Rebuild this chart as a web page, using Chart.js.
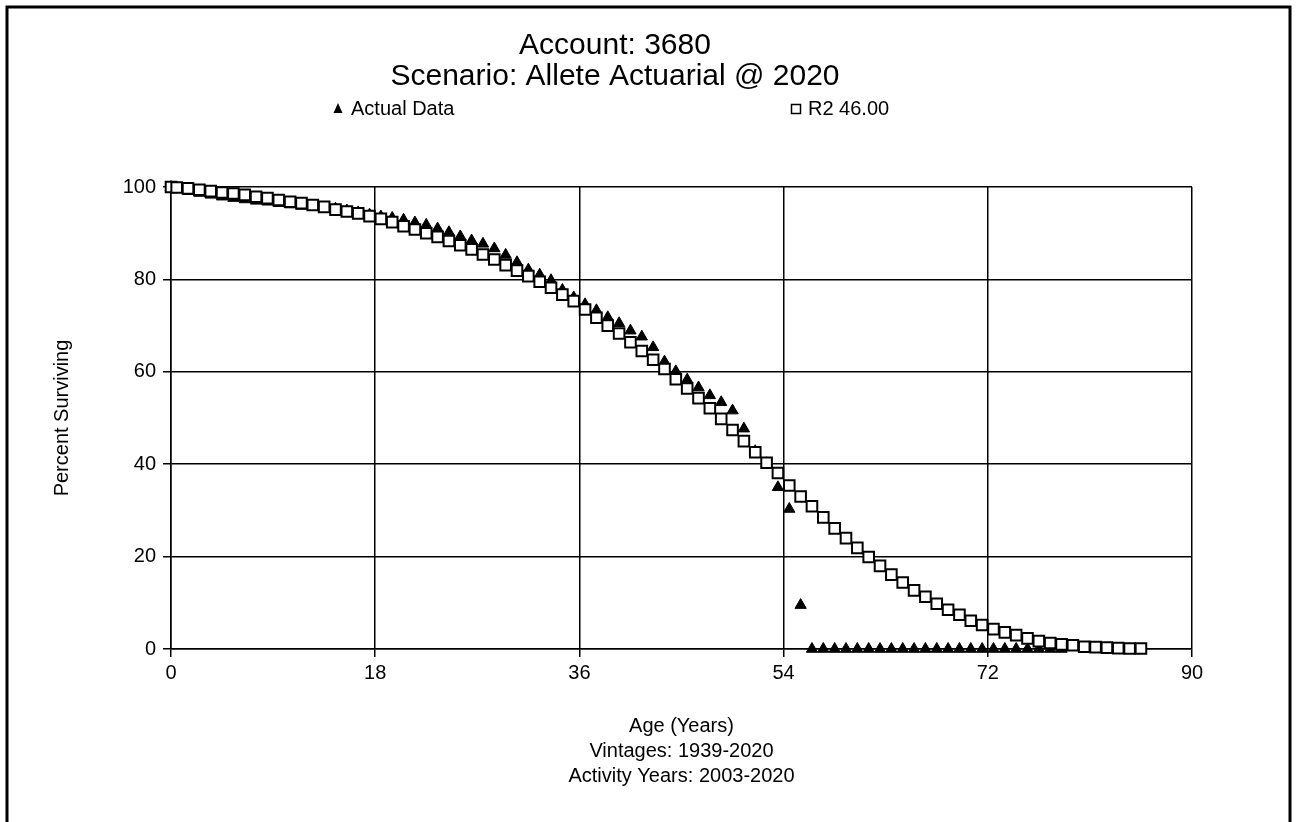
<!DOCTYPE html>
<html>
<head>
<meta charset="utf-8">
<title>Account 3680 - Survivor Curve</title>
<script src="https://cdn.jsdelivr.net/npm/chart.js@4.4.1/dist/chart.umd.min.js"></script>
<style>
  body{margin:0;background:#fff;}
  canvas{display:block;}
</style>
</head>
<body>
<canvas id="survivalChart" width="1298" height="822"></canvas>
<script>
// ========== DATA ==========
const titleLines = ["Account: 3680", "Scenario: Allete Actuarial @ 2020"];
const xTitleLines = ["Age (Years)", "Vintages: 1939-2020", "Activity Years: 2003-2020"];
const yTitle = "Percent Surviving";
const legendNames = ["Actual Data", "R2 46.00"];
const xTicks = [0, 18, 36, 54, 72, 90];
const yTicks = [0, 20, 40, 60, 80, 100];

const actualAges = [0, 0.5, 1.5, 2.5, 3.5, 4.5, 5.5, 6.5, 7.5, 8.5, 9.5,
  10.5, 11.5, 12.5, 13.5, 14.5, 15.5, 16.5, 17.5, 18.5, 19.5,
  20.5, 21.5, 22.5, 23.5, 24.5, 25.5, 26.5, 27.5, 28.5, 29.5,
  30.5, 31.5, 32.5, 33.5, 34.5, 35.5, 36.5, 37.5, 38.5, 39.5,
  40.5, 41.5, 42.5, 43.5, 44.5, 45.5, 46.5, 47.5, 48.5, 49.5,
  50.5, 51.5, 52.5, 53.5, 54.5, 55.5, 56.5, 57.5, 58.5, 59.5,
  60.5, 61.5, 62.5, 63.5, 64.5, 65.5, 66.5, 67.5, 68.5, 69.5,
  70.5, 71.5, 72.5, 73.5, 74.5, 75.5, 76.5, 77.5, 78.5];
const actualPct = [100, 99.5, 99.1, 98.7, 98.3, 97.9, 97.6, 97.3, 97.0, 96.8, 96.5,
  96.2, 95.9, 95.7, 95.5, 95.3, 94.9, 94.5, 94.0, 93.6, 93.3,
  92.9, 92.3, 91.8, 91.0, 90.2, 89.3, 88.4, 87.7, 86.7, 85.3,
  83.7, 82.1, 81.0, 79.8, 77.7, 76.1, 74.6, 73.3, 71.8, 70.5,
  68.9, 67.6, 65.3, 62.2, 60.1, 58.3, 56.6, 54.9, 53.4, 51.6,
  47.7, 42.8, 40.2, 35.0, 30.3, 9.5, 0, 0, 0, 0,
  0, 0, 0, 0, 0, 0, 0, 0, 0, 0,
  0, 0, 0, 0, 0, 0, 0, 0, 0];

const curveAges = [0, 0.5, 1.5, 2.5, 3.5, 4.5, 5.5, 6.5, 7.5, 8.5, 9.5,
  10.5, 11.5, 12.5, 13.5, 14.5, 15.5, 16.5, 17.5, 18.5, 19.5,
  20.5, 21.5, 22.5, 23.5, 24.5, 25.5, 26.5, 27.5, 28.5, 29.5,
  30.5, 31.5, 32.5, 33.5, 34.5, 35.5, 36.5, 37.5, 38.5, 39.5,
  40.5, 41.5, 42.5, 43.5, 44.5, 45.5, 46.5, 47.5, 48.5, 49.5,
  50.5, 51.5, 52.5, 53.5, 54.5, 55.5, 56.5, 57.5, 58.5, 59.5,
  60.5, 61.5, 62.5, 63.5, 64.5, 65.5, 66.5, 67.5, 68.5, 69.5,
  70.5, 71.5, 72.5, 73.5, 74.5, 75.5, 76.5, 77.5, 78.5, 79.5,
  80.5, 81.5, 82.5, 83.5, 84.5, 85.5];
const curvePct = [100, 99.9, 99.7, 99.4, 99.1, 98.8, 98.6, 98.3, 97.9, 97.6, 97.2,
  96.8, 96.5, 96.1, 95.7, 95.1, 94.7, 94.3, 93.7, 93.1, 92.4,
  91.5, 90.8, 90.0, 89.2, 88.3, 87.4, 86.5, 85.4, 84.3, 83.1,
  81.9, 80.7, 79.5, 78.2, 76.7, 75.3, 73.5, 71.7, 70.0, 68.3,
  66.4, 64.5, 62.6, 60.6, 58.4, 56.4, 54.3, 52.1, 49.8, 47.4,
  45.0, 42.6, 40.3, 38.1, 35.4, 33.0, 30.9, 28.5, 26.1, 24.0,
  21.9, 19.9, 18.0, 16.1, 14.4, 12.7, 11.3, 9.8, 8.5, 7.4,
  6.1, 5.2, 4.3, 3.6, 3.0, 2.3, 1.7, 1.3, 1.0, 0.8,
  0.5, 0.4, 0.3, 0.2, 0.1, 0.1, 0];

// ========== PAGE DECORATIONS ==========
const FONT = "'Liberation Sans', Arial, sans-serif";

const pageFrame = {
  id: "pageFrame",
  afterDraw(chart){
    const ctx = chart.ctx;
    ctx.save();
    ctx.strokeStyle = "#000";
    ctx.lineWidth = 3;
    ctx.beginPath();
    ctx.moveTo(7, 830);
    ctx.lineTo(7, 7);
    ctx.lineTo(1290, 7);
    ctx.lineTo(1290, 830);
    ctx.stroke();

    // titles
    ctx.fillStyle = "#000";
    ctx.textAlign = "center";
    ctx.textBaseline = "middle";
    ctx.font = "30px " + FONT;
    ctx.fillText(titleLines[0], 615, 46);
    ctx.fillText(titleLines[1], 615, 77);

    // legend
    ctx.font = "20px " + FONT;
    ctx.textAlign = "left";
    ctx.beginPath();
    ctx.moveTo(338, 103);
    ctx.lineTo(342.5, 113);
    ctx.lineTo(333.5, 113);
    ctx.closePath();
    ctx.fill();
    ctx.fillText(legendNames[0], 351, 109);

    ctx.lineWidth = 1.5;
    ctx.strokeRect(791.5, 104.5, 9, 9);
    ctx.fillText(legendNames[1], 808, 109);
    ctx.restore();
  }
};

// ========== CHART ==========
new Chart(document.getElementById("survivalChart"), {
  type: "scatter",
  data: {
    datasets: [
      {
        label: legendNames[1],
        data: curveAges.map((a, i) => ({x: a, y: curvePct[i]})),
        pointStyle: "rect",
        pointRadius: 7.5,
        pointHoverRadius: 7.5,
        pointBackgroundColor: "#fff",
        pointBorderColor: "#000",
        pointBorderWidth: 2,
        clip: false,
        order: 0
      },
      {
        label: legendNames[0],
        data: actualAges.map((a, i) => ({x: a, y: actualPct[i]})),
        pointStyle: "triangle",
        pointRadius: 6.5,
        pointHoverRadius: 6.5,
        pointBackgroundColor: "#000",
        pointBorderColor: "#000",
        pointBorderWidth: 1,
        clip: false,
        order: 1
      }
    ]
  },
  options: {
    responsive: false,
    animation: false,
    layout: { padding: { left: 0, top: 187, right: 106, bottom: 0 } },
    plugins: {
      legend: { display: false },
      title: { display: false },
      tooltip: { enabled: false }
    },
    scales: {
      x: {
        type: "linear",
        min: 0, max: 90,
        afterBuildTicks: s => { s.ticks = xTicks.map(v => ({value: v})); },
        afterFit: s => { s.height = 173; },
        grid: { color: "#000", lineWidth: 1.5, tickLength: 8, tickColor: "#000" },
        border: { color: "#000", width: 1.5 },
        ticks: { color: "#000", padding: 4, font: { family: FONT, size: 20 } },
        title: {
          display: true,
          text: xTitleLines,
          color: "#000",
          font: { family: FONT, size: 20, lineHeight: 1.25 },
          padding: { top: 0, bottom: 33 }
        }
      },
      y: {
        type: "linear",
        min: 0, max: 100,
        afterBuildTicks: s => { s.ticks = yTicks.map(v => ({value: v})); },
        afterFit: s => { s.width = 171; },
        grid: { color: "#000", lineWidth: 1.5, tickLength: 8, tickColor: "#000" },
        border: { color: "#000", width: 1.5 },
        ticks: { color: "#000", padding: 7, font: { family: FONT, size: 20 } },
        title: {
          display: true,
          text: yTitle,
          color: "#000",
          font: { family: FONT, size: 20 },
          padding: { top: 50, bottom: 0 }
        }
      }
    }
  },
  plugins: [pageFrame]
});
</script>
</body>
</html>
